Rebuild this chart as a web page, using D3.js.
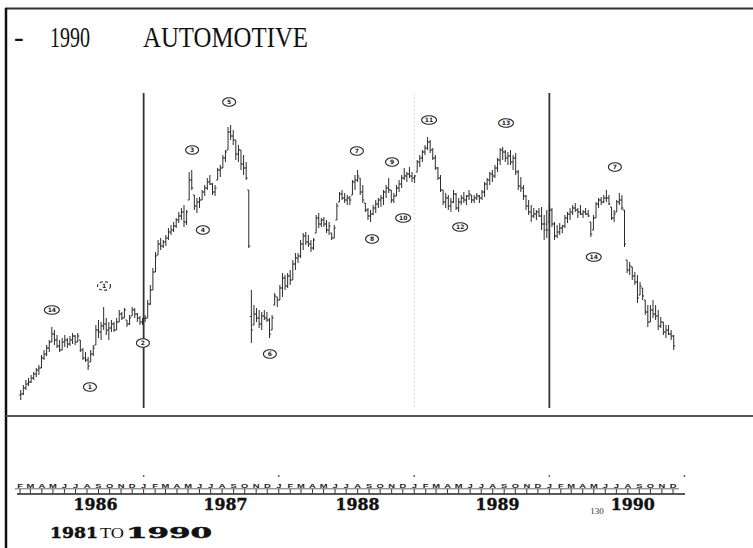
<!DOCTYPE html>
<html>
<head>
<meta charset="utf-8">
<script src="https://cdn.jsdelivr.net/npm/d3@7"></script>
<style>
  html, body { margin: 0; padding: 0; background: #fff; }
  svg { display: block; }
</style>
</head>
<body>
<svg id="chart" width="753" height="548"></svg>
<script>
// Weekly bars: [high, low, close] in index points, one row per week.
const start1986 = "1986-02-17";
const bars1986 = [
  [30,25,28],[32.5,27.5,31],[35,30,33],[36,32,34],[37.5,33.5,36],[39,35,38],[41,36.5,40],[42.5,37.5,41],
  [47.5,41,46],[50,45,48],[52.5,47,51],[55,49,54],[61.5,54,58],[60,52.5,55],[57.5,51,52],[55,49,50],
  [56,50,54],[57.5,51.5,55],[56,51,53],[57,52,55],[58.5,53,57],[57.5,52.5,54],[58.5,54,57],[55,49,50],
  [51,45,46],[49,44,45],[46.5,40,42],[50,44,48],[52.5,47,51],[62.5,52.5,60],[65,56,59],[64,55,62],
  [71.5,60,63],[66,57.5,60],[64,55,61],[65,59,63],[64,59,60],[66,60,64],[70,64,68],[69,65,66],
  [71,66,70],[65,61.5,63],[67.5,62.5,66],[71.5,67,70],[71,66,68],[68.5,64,66],[67,62.5,64],[66,62.5,64]
];

const start1987 = "1987-01-19";
const bars1987 = [
  [67.5,64,66],[75,66,73],[82.5,72.5,80],[91,80,89],[99,89,97],[105,97.5,103],[106,100,102],[105,101,104],
  [107.5,102,106],[111,105,109],[112.5,107.5,110],[114,109,112],[116,111,115],[119,113.5,117],[121,115,119],[122.5,111.5,114],
  [120,112.5,119],[139,125,135],[140,130,131],[127.5,120,122],[126,118.5,124],[126.5,121,125],[130,125,129],[132.5,127,131],
  [136,130,134],[137.5,132.5,133],[133.5,127.5,129],[132.5,127,131],[141,135,140],[142.5,136.5,141],[147.5,141,146],[150,144,149],
  [161.5,150,159],[162.5,155,157],[160,152.5,155],[155,145,148],[152.5,144,150],[150,140,143],[147.5,137.5,141],[144,135,136],
  [130,101,102]
];

const start1988 = "1987-11-02";
const bars1988to1989 = [
  [80,53.5,60],[72.5,62.5,68],[71,64,66],[70,61,63],[69,60,67],[70,65,66],[69,64,65],[66,56,58],
  [67.5,60,66],[78.5,72.5,77],[76.5,71.5,75],[82.5,75,81],[88.5,76.5,86],[87.5,80,82],[88.5,81,87],[90,82.5,85],
  [95,85,93],[98.5,90,96],[98.5,93.5,97],[105,96,103],[108.5,100,107],[109,102.5,104],[107.5,101.5,103],[105,99,101],
  [106,100,105],[117.5,108.5,116],[118.5,111,113],[116,111.5,115],[116.5,111.5,113],[115,108.5,110],[114,107.5,112],[108.5,105,106],
  [112.5,106,111],[123.5,115,122],[129,124,128],[130,125,126],[128.5,123.5,125],[127.5,122.5,126],[127,122.5,125],[135,127.5,134],
  [137.5,130,135],[140,134,137],[136,127.5,129],[132.5,123.5,125],[123.5,119,120],[121,115,117],[120,114,118],[122.5,117.5,121],
  [125,118.5,123],[126,121,125],[127.5,121.5,126],[130,122.5,129],[132.5,126,131],[136,128.5,130],[130,123.5,125],[128.5,123.5,127],
  [132.5,127,131],[135,129,133],[137.5,131,136],[141,135,137],[139,134,138],[141.5,136,137],[139,134,136],[137.5,133.5,137],
  [145,139,144],[147.5,141.5,146],[150,144,149],[152.5,147.5,151],[156.5,150,154],[155,148.5,150],[151,145,146],[147.5,140,141],
  [141.5,135,136],[137.5,129,130],[130,122.5,124],[128.5,121,126],[127.5,120,122],[126,119,124],[130,123.5,128],[128.5,120,121],
  [126,119,124],[127.5,122.5,126],[129,123.5,125],[127.5,122.5,127],[130,125,128],[127.5,123.5,125],[127.5,123.5,126],[128.5,125,127],
  [127.5,123.5,126],[130,125,129],[134,126.5,133],[136,130,135],[139,132.5,138],[140,134,137],[142.5,136,141],[146,139,145],
  [151,142.5,150],[151.5,145,149],[150,144,146],[149,142.5,147],[150,142.5,144],[147.5,140,146],[148.5,137.5,139],[140,130,132],
  [136.5,129,131],[132.5,125,127],[127.5,120,122],[125,117.5,119],[122.5,114,117],[121,116,118],[120,115,119],[121,116.5,117],
  [121.5,110,113],[117.5,105,110]
];

const start1990 = "1990-01-08";
const bars1990 = [
  [120,106,110],[122.5,114,120],[121,111.5,113],[114,105,107],[112.5,106,109],[113.5,107.5,111],[112.5,108.5,112],[117.5,111,116],
  [119,113.5,118],[121,115,119],[122.5,117.5,121],[123.5,119,120],[121,116,119],[122.5,117.5,118],[120,116,119],[121,117.5,118],
  [120,116.5,117],[114,106.5,108],[117.5,110,116],[124,116,123],[126,121,125],[126.5,122.5,124],[127.5,123.5,126],[130,124,126],
  [127.5,122.5,123],[121.5,115,116],[120,114,118],[125,119,124],[128.5,122.5,125],[127.5,120,121],[120,101.5,103],[95,88.5,90],
  [94,87.5,92],[91.5,85,87],[89,82.5,84],[87.5,73.5,76],[84,77.5,82],[81,75,77],[75,67.5,69],[72.5,61.5,64],
  [72.5,64,70],[75,66,68],[72.5,65,67],[70,60,62],[66.5,61,64],[64,57.5,59],[62.5,56,60],[62.5,57.5,58],
  [60,55,57],[57.5,50,52]
];

// Month letters along the date axis and the year captions beneath them.
const monthLetters = ["J","F","M","A","M","J","J","A","S","O","N","D"];
const yearLabels = ["1986", "1987", "1988", "1989", "1990"];
const yearLabelDates = ["1986-09-07", "1987-08-24", "1988-08-15", "1989-08-28", "1990-08-28"];

// Wave counts marked on the chart: [label, date, price level, dashed outline].
const waveLabels = [
  ["14", "1986-05-12", 70, false],
  ["1",  "1986-09-30", 82, true],
  ["1",  "1986-08-23", 31.5, false],
  ["2",  "1987-01-13", 53.5, false],
  ["3",  "1987-05-26", 150, false],
  ["4",  "1987-06-24", 110, false],
  ["5",  "1987-09-03", 174, false],
  ["6",  "1987-12-22", 48, false],
  ["7",  "1988-08-13", 149.5, false],
  ["8",  "1988-09-23", 105.5, false],
  ["9",  "1988-11-16", 144, false],
  ["10", "1988-12-16", 116, false],
  ["11", "1989-02-24", 165, false],
  ["12", "1989-05-19", 111.5, false],
  ["13", "1989-09-20", 163.5, false],
  ["7",  "1990-07-11", 141.5, false],
  ["14", "1990-05-15", 96.5, false]
];

// Year dividers: [date, strong].
const dividers = [["1987-01-15", true], ["1989-01-15", false], ["1990-01-15", true]];
const yearDots = ["1987-01-15", "1988-01-15", "1989-01-15", "1990-01-15", "1991-01-15"];

const parse = d3.timeParse("%Y-%m-%d");
const svg = d3.select("#chart");

const x = d3.scaleTime()
  .domain([new Date(1986, 1, 15), new Date(1990, 11, 15)])
  .range([20, 673]);
const y = d3.scaleLinear().domain([0, 225]).range([450, 0]);

svg.append("rect").attr("width", 753).attr("height", 548).attr("fill", "#fff");

// Frame: top rule, left rule, and the rule under the price panel.
svg.append("line").attr("x1", 5).attr("x2", 753).attr("y1", 8.5).attr("y2", 8.5)
  .attr("stroke", "#333").attr("stroke-width", 2);
svg.append("line").attr("x1", 6).attr("x2", 6).attr("y1", 8).attr("y2", 548)
  .attr("stroke", "#111").attr("stroke-width", 2.5);
svg.append("line").attr("x1", 6).attr("x2", 753).attr("y1", 416).attr("y2", 416)
  .attr("stroke", "#555").attr("stroke-width", 2);

// Title
const titleFont = { "font-family": "Liberation Serif", "font-size": 29, "fill": "#111" };
function styled(sel, attrs) { Object.entries(attrs).forEach(([k, v]) => sel.attr(k, v)); return sel; }
styled(svg.append("text").attr("x", 14).attr("y", 47).text("-"), titleFont);
styled(svg.append("text").attr("x", 50).attr("y", 47).text("1990"), titleFont)
  .attr("textLength", 40).attr("lengthAdjust", "spacingAndGlyphs");
styled(svg.append("text").attr("x", 143).attr("y", 47).text("AUTOMOTIVE"), titleFont)
  .attr("textLength", 165).attr("lengthAdjust", "spacingAndGlyphs");

// Year dividers
dividers.forEach(([d, strong]) => {
  const xd = x(parse(d));
  svg.append("line").attr("x1", xd).attr("x2", xd).attr("y1", 93).attr("y2", 408)
    .attr("stroke", strong ? "#333" : "#ddd")
    .attr("stroke-width", strong ? 1.8 : 1)
    .attr("stroke-dasharray", strong ? null : "2,2");
});

// Weekly bars
const segments = [
  [start1986, bars1986], [start1987, bars1987], [start1988, bars1988to1989], [start1990, bars1990]
];
const barG = svg.append("g").attr("stroke", "#2b2b2b").attr("stroke-width", 1).attr("fill", "none");
segments.forEach(([s, bars]) => {
  const s0 = parse(s);
  bars.forEach((b, i) => {
    const xb = x(d3.timeDay.offset(s0, 7 * i));
    const [hi, lo, cl] = b;
    barG.append("line").attr("x1", xb).attr("x2", xb).attr("y1", y(hi)).attr("y2", y(lo));
    barG.append("line").attr("x1", xb).attr("x2", xb + 1.5).attr("y1", y(cl)).attr("y2", y(cl));
    const op = i > 0 ? bars[i - 1][2] : (hi + lo) / 2;
    const yo = y(Math.max(lo, Math.min(hi, op)));
    barG.append("line").attr("x1", xb - 1.5).attr("x2", xb).attr("y1", yo).attr("y2", yo);
  });
});

// Wave count markers
const wg = svg.append("g");
waveLabels.forEach(([lab, d, p, dashed]) => {
  const cx = x(parse(d)), cy = y(p);
  wg.append("ellipse").attr("cx", cx).attr("cy", cy)
    .attr("rx", lab.length > 1 ? 7.5 : 6.5).attr("ry", 4.3)
    .attr("fill", "#fff").attr("stroke", "#222").attr("stroke-width", 1.1)
    .attr("stroke-dasharray", dashed ? "3,2.2" : null);
  wg.append("text").attr("x", cx).attr("y", cy + 2.3).text(lab)
    .attr("text-anchor", "middle").attr("font-family", "DejaVu Sans")
    .attr("font-weight", "bold").attr("font-size", 6).attr("fill", "#222");
});

// Date axis
const months = d3.timeMonth.range(new Date(1986, 1, 1), new Date(1991, 0, 1));
const ax = svg.append("g");
ax.append("line").attr("x1", 17).attr("x2", 685).attr("y1", 494).attr("y2", 494)
  .attr("stroke", "#222").attr("stroke-width", 1.6);
ax.append("line").attr("x1", 15).attr("x2", 679).attr("y1", 488.8).attr("y2", 488.8)
  .attr("stroke", "#444").attr("stroke-width", 0.8);
months.forEach(m => {
  const xm = x(d3.timeDay.offset(m, 14));
  ax.append("text").attr("transform", `translate(${xm},488) scale(1.1,0.72)`)
    .text(monthLetters[m.getMonth()])
    .attr("text-anchor", "middle").attr("font-family", "Liberation Sans")
    .attr("font-weight", "bold").attr("font-size", 8.5).attr("fill", "#222");
  ax.append("line").attr("x1", xm).attr("x2", xm).attr("y1", 489).attr("y2", 493.5)
    .attr("stroke", "#333").attr("stroke-width", 1);
});
yearDots.forEach(d => {
  ax.append("circle").attr("cx", x(parse(d))).attr("cy", 476).attr("r", 0.9).attr("fill", "#555");
});
yearLabels.forEach((t, i) => {
  ax.append("text").attr("x", x(parse(yearLabelDates[i]))).attr("y", 510).text(t)
    .attr("text-anchor", "middle").attr("font-family", "DejaVu Serif")
    .attr("font-weight", "bold").attr("font-size", 16).attr("fill", "#111")
    .attr("stroke", "#111").attr("stroke-width", 0.4)
    .attr("textLength", 44).attr("lengthAdjust", "spacingAndGlyphs");
});
ax.append("text").attr("x", 597).attr("y", 514).text("130")
  .attr("text-anchor", "middle").attr("font-family", "Liberation Serif")
  .attr("font-size", 9).attr("fill", "#333");

// Span caption
const capBold = { "font-family": "DejaVu Serif", "font-weight": "bold", "font-size": 15.5,
  "fill": "#111", "stroke": "#111", "stroke-width": 0.5, "lengthAdjust": "spacingAndGlyphs" };
styled(svg.append("text").attr("x", 50).attr("y", 538).text("1981"), capBold).attr("textLength", 48);
svg.append("text").attr("x", 100).attr("y", 538).text("TO")
  .attr("font-family", "Liberation Serif").attr("font-size", 15).attr("fill", "#111")
  .attr("textLength", 24).attr("lengthAdjust", "spacingAndGlyphs");
styled(svg.append("text").attr("x", 126).attr("y", 538).text("1990"), capBold).attr("textLength", 86);
</script>
</body>
</html>
